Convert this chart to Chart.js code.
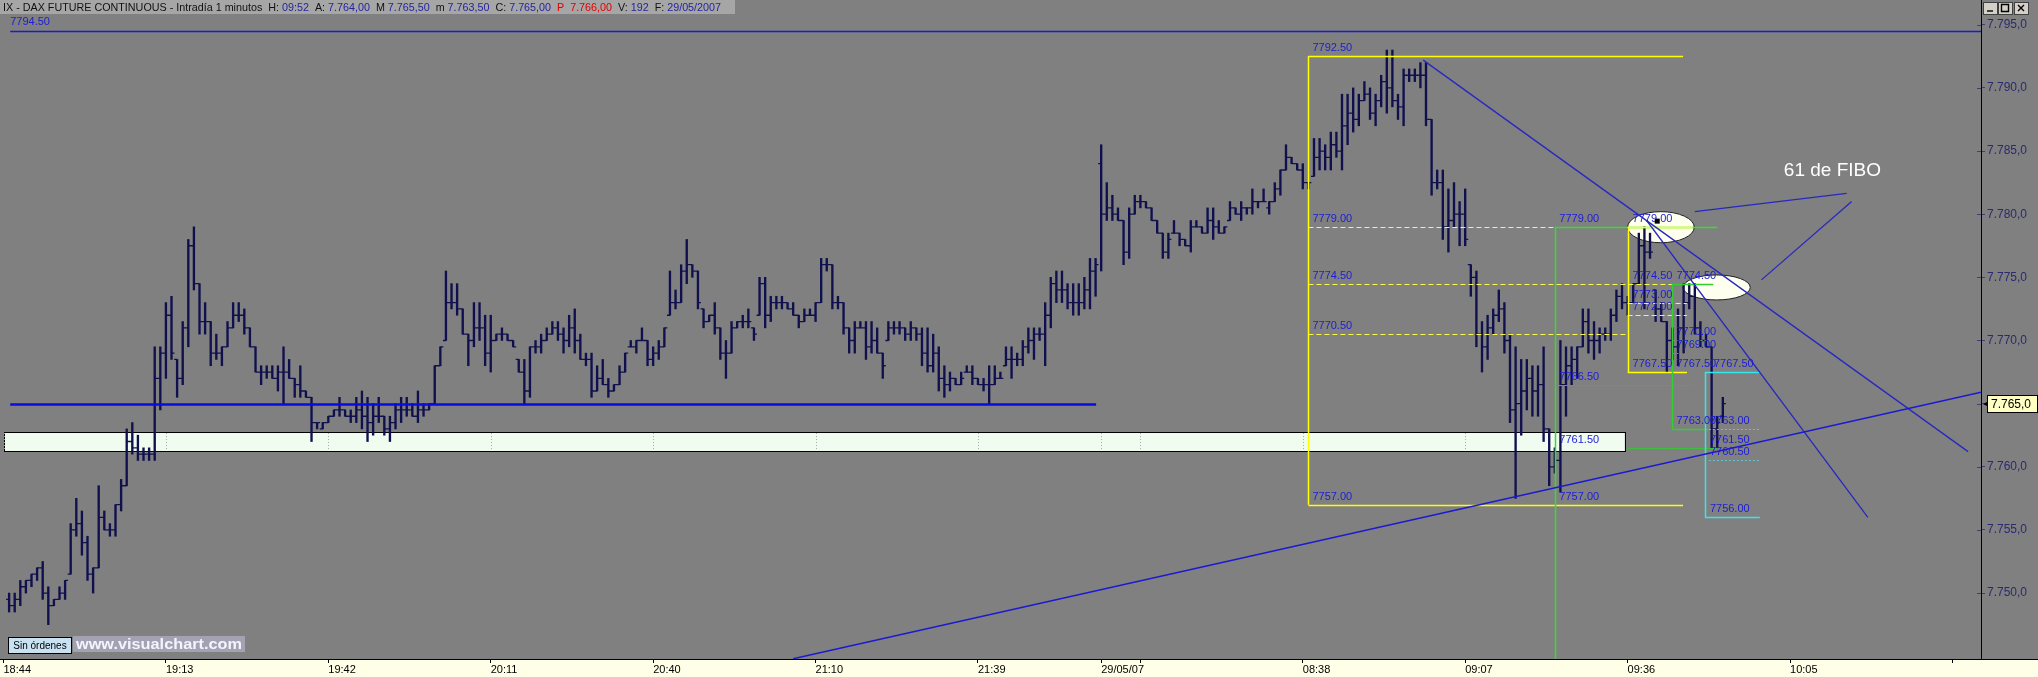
<!DOCTYPE html>
<html><head><meta charset="utf-8">
<script src="https://cdn.jsdelivr.net/npm/chart.js@4.4.1/dist/chart.umd.min.js"></script>
<style>html,body{margin:0;padding:0;background:#808080;overflow:hidden}canvas{display:block}</style>
</head><body>
<canvas id="c" width="2038" height="677"></canvas>
<script>
// ---- OHLC data, one-minute bars (bar n is at axis position n) ----
const H = [7750,7750,7751,7751,7751.5,7752,7752.5,7750.5,7749.5,7750.5,
7751,7755.5,7757.5,7756.5,7754.5,7752,7758.5,7756.5,7755.5,7757,
7759,7763,7763.5,7762.5,7761.5,7761.5,7769.5,7769.5,7773,7773.5,
7768.5,7771.5,7778,7779,7774.5,7773,7771.5,7770.5,7769.5,7771.5,
7773,7773,7772.5,7771,7769.5,7768,7768,7768,7768,7769.5,
7768.5,7767,7768,7766,7765.5,7763.5,7763.5,7764,7764.5,7765.5,
7764.5,7764.5,7765.5,7766,7765.5,7765,7765.5,7764,7764,7765,
7765.5,7765.5,7765,7766,7765,7765,7768,7769.5,7775.5,7774.5,
7774.5,7772.5,7770.5,7773,7773,7772,7772,7770.5,7771,7770.5,
7770,7768.5,7768.5,7769.5,7770,7770.5,7771,7771.5,7771.5,7771,
7772,7772.5,7770.5,7769,7769,7768,7768.5,7767,7766.5,7768,
7769,7770,7770,7771,7770,7769.5,7770,7771,7775.5,7774,
7776,7778,7776,7775.5,7772.5,7772,7773,7771,7770,7771.5,
7771.5,7772,7772.5,7771,7775,7775,7773.5,7773.5,7773.5,7773,
7773,7772,7772.5,7772.5,7773,7776.5,7776.5,7776,7773.5,7773,
7771,7771.5,7771.5,7771.5,7771.5,7771,7769,7771.5,7771.5,7771.5,
7771,7771.5,7771,7771,7771,7770.5,7769.5,7768,7767.5,7767,
7767.5,7768,7768,7767,7767,7768,7768,7767.5,7769.5,7769.5,
7769,7770,7771,7771,7771,7773,7775,7775.5,7775.5,7774.5,
7774.5,7774.5,7775,7776.5,7776.5,7785.5,7782.5,7781.5,7780.5,7779.5,
7780.5,7781.5,7781.5,7781,7780.5,7779.5,7778.5,7778.5,7779.5,7778.5,
7778,7779.5,7779.5,7779,7780.5,7780.5,7779.5,7779,7781,7780.5,
7781,7780.5,7782,7781,7782,7781,7782.5,7783.5,7785.5,7784.5,
7784,7784,7782.5,7786,7786,7785.5,7786.5,7786.5,7789.5,7789.5,
7790,7789.5,7790.5,7790,7789.5,7791,7793,7793,7789.5,7791.5,
7791.5,7791.5,7792,7792,7787.5,7783.5,7783.5,7782,7782.5,7781,
7782,7776,7775.5,7771.5,7772,7772.5,7774,7773,7770.5,7769.5,
7768.5,7768.5,7768,7768,7769.5,7763,7761.5,7770,7769.5,7769.5,
7769.5,7772.5,7772.5,7771.5,7771,7771,7772.5,7774,7774.5,7773.5,
7774.5,7778.5,7779,7778.5,7774,7773,7771.5,7771,7772.5,7774.5,
7774.5,7774.5,7771.5,7770.5,7769.5,7764,7765.5];
const L = [7748.5,7748.5,7749,7750,7750.5,7751,7749.5,7747.5,7749,7749.5,
7749.5,7751.5,7754.5,7753,7751,7750,7752,7755,7754.5,7754.5,
7756.5,7758.5,7761,7760.5,7760.5,7760.5,7760.5,7764.5,7767,7768.5,
7765.5,7766.5,7769.5,7774,7770.5,7770.5,7768,7768.5,7768,7769.5,
7771,7771.5,7770.5,7769.5,7767.5,7766.5,7767,7767,7766,7765,
7767,7765.5,7765.5,7765.5,7762,7763,7763,7763.5,7764,7764,
7764,7763.5,7763.5,7763,7762,7762.5,7763.5,7762.5,7762,7763,
7763.5,7764,7764,7763.5,7764,7764.5,7765,7768,7770,7772.5,
7772,7770.5,7768,7769.5,7770,7768,7767.5,7770,7770,7770,
7769.5,7767.5,7765,7765.5,7769,7769,7770,7770.5,7770,7769,
7769.5,7769,7768.5,7768,7765.5,7766,7766.5,7765.5,7766,7766.5,
7767.5,7769.5,7769,7770,7768,7768,7768.5,7769.5,7772,7772.5,
7773,7774.5,7775,7772.5,7771,7771.5,7770.5,7768.5,7767,7769,
7771,7771,7771,7770,7772,7771,7771.5,7772.5,7772.5,7772.5,
7772,7771,7771.5,7772,7771.5,7773,7775.5,7772.5,7772.5,7770.5,
7769,7769,7771,7768.5,7769,7769,7767,7770,7770.5,7770.5,
7770,7770,7770,7768,7767.5,7767.5,7766,7765.5,7766,7766.5,
7766.5,7767.5,7766.5,7766.5,7766,7765,7766.5,7767,7768,7767,
7768,7768,7769,7768.5,7770,7768,7771,7773,7773,7772.5,
7772,7772,7772.5,7772.5,7773.5,7775.5,7779.5,7779.5,7779.5,7776,
7776.5,7780,7780.5,7780.5,7779.5,7778.5,7776.5,7776.5,7778.5,7777.5,
7777.5,7777,7779,7778.5,7778.5,7778,7778.5,7778.5,7779.5,7780,
7779.5,7780,7780,7780.5,7781,7780,7781,7781.5,7783.5,7784,
7783.5,7782,7782,7783,7783.5,7783.5,7783.5,7784.5,7783.5,7785.5,
7786.5,7787,7789,7787.5,7787,7788.5,7788,7788.5,7787.5,7787,
7790.5,7790.5,7790,7787,7781.5,7782,7778,7777,7779,7777.5,
7777.5,7773.5,7769.5,7767.5,7768.5,7770.5,7771.5,7769,7763.5,7757.5,
7762.5,7764.5,7764,7764,7762,7758.5,7759.5,7758,7764,7766.5,
7767,7769.5,7769,7768.5,7769,7770,7770,7771.5,7772.5,7772,
7773,7774.5,7772.5,7776.5,7771.5,7771.5,7767.5,7768.5,7768,7769,
7772.5,7770.5,7769.5,7769.5,7761.5,7761.5,7763.5];
const O = [7749.5,7749,7749.5,7750.5,7751,7751.5,7752,7750,7749,7749.5,
7750,7751.5,7755,7755.5,7754,7751.5,7752,7756,7755,7755,
7757,7758.5,7762,7761.5,7761,7761,7761,7767,7769,7772,
7768.5,7767,7771,7777.5,7774.5,7771.5,7771.5,7769,7769,7769.5,
7771,7772,7772,7771,7769.5,7767.5,7767.5,7767.5,7767,7767.5,
7767.5,7767,7766.5,7766,7765.5,7763.5,7763,7763.5,7764,7764.5,
7764.5,7764,7764,7764.5,7764,7763.5,7764,7764,7763,7763.5,
7764.5,7764.5,7764.5,7764,7764.5,7764.5,7765,7768,7770,7773,
7773,7772.5,7770.5,7770,7771,7771,7769,7770,7770.5,7770.5,
7770,7768.5,7767.5,7766,7769.5,7769.5,7770,7770.5,7771,7770.5,
7770,7771,7770,7768.5,7768.5,7766,7767,7766.5,7766,7766.5,
7767.5,7769.5,7769.5,7770,7770,7768.5,7769,7769.5,7772,7773,
7773,7775.5,7776,7775.5,7772.5,7771.5,7772,7771,7769,7769,
7771,7771.5,7771.5,7771,7772,7774.5,7772,7773,7773,7773,
7772.5,7772,7771.5,7772,7772,7773,7776,7776,7773,7773,
7771,7770,7771,7771,7769.5,7770,7769,7770,7771,7771,
7771,7770.5,7771,7770.5,7769,7768,7769,7767,7766.5,7767,
7766.5,7767.5,7767.5,7767,7766.5,7766.5,7766.5,7767,7768,7768.5,
7768.5,7768.5,7769.5,7770,7770.5,7770.5,7772,7774.5,7774,7774,
7773,7773,7773,7774,7775.5,7784,7780,7780.5,7780,7779.5,
7777,7780,7781,7781,7780.5,7779.5,7778.5,7777,7778.5,7778.5,
7778,7777.5,7779,7779,7778.5,7779.5,7779,7778.5,7779.5,7780.5,
7780,7780.5,7780.5,7781,7781,7780.5,7781,7782,7783.5,7784.5,
7784,7783.5,7782.5,7783,7784.5,7785,7784.5,7785.5,7785,7787,
7788,7787.5,7789,7789.5,7788,7789,7790.5,7790,7789,7788.5,
7791,7791,7791,7791,7787.5,7782.5,7782.5,7779,7779.5,7780,
7780,7776,7775,7770.5,7769.5,7771,7772,7772.5,7770,7764.5,
7765,7766,7767,7766,7766.5,7763,7760,7760.5,7766.5,7768,
7768.5,7769.5,7771.5,7770,7770,7770.5,7770.5,7772,7773.5,7773,
7773,7774.5,7777.5,7777,7774,7772.5,7771.5,7770,7769.5,7771,
7773,7773.5,7771,7770,7769.5,7763,7764];
const C = [7749,7749.5,7750.5,7751,7751.5,7752,7750,7749,7749.5,7750,
7751,7755,7755.5,7754,7751.5,7752,7756,7755,7755,7757,
7758.5,7762,7761.5,7761,7761,7761,7767,7769,7772,7769,
7767,7771,7777.5,7774.5,7771.5,7771.5,7769,7769,7769.5,7771,
7772,7772,7771,7769.5,7767.5,7767.5,7767.5,7767,7767.5,7767.5,
7767,7766.5,7766,7765.5,7763.5,7763.5,7763.5,7764,7764.5,7764.5,
7764,7764,7764.5,7764,7763.5,7764,7764,7763,7763.5,7764.5,
7764.5,7764.5,7764,7764.5,7764.5,7765,7768,7769.5,7773,7773,
7772.5,7770.5,7770,7771,7771,7769,7770,7770.5,7770.5,7770,
7769.5,7767.5,7766,7769.5,7769.5,7770,7770.5,7771,7770.5,7770,
7771,7770,7768.5,7768.5,7766,7767,7766.5,7766,7766.5,7767.5,
7769,7769.5,7770,7770,7768.5,7769,7769.5,7771,7773,7773,
7775.5,7776,7775.5,7773,7771.5,7772,7771,7769,7769,7771,
7771.5,7771.5,7771.5,7770.5,7774.5,7772,7773,7773,7773,7772.5,
7772,7771.5,7772,7772,7773,7776,7776,7773,7773,7771,
7770,7771,7771,7769.5,7770,7769,7768,7771,7771,7771,
7770.5,7771,7770.5,7769,7768,7769,7767,7766.5,7767,7766.5,
7767,7767.5,7767,7766.5,7766.5,7766.5,7767,7767,7768.5,7768.5,
7768.5,7769.5,7770,7770.5,7770.5,7772,7774.5,7774,7774,7773,
7773,7773,7774,7775.5,7776,7780,7780.5,7780,7779.5,7777,
7780,7781,7781,7780.5,7779.5,7778.5,7777,7778,7778.5,7778,
7777.5,7779,7779,7778.5,7779.5,7779,7778.5,7779,7780.5,7780,
7780.5,7780.5,7781,7781,7781,7781,7782,7783.5,7784.5,7784,
7783.5,7782.5,7782.5,7784.5,7785,7784.5,7785.5,7785,7787,7788,
7787.5,7789,7789.5,7788,7789,7790.5,7790,7789,7788.5,7791,
7791,7791,7791,7787.5,7782.5,7782.5,7779,7779.5,7780,7780,
7778,7775,7770.5,7769.5,7771,7772,7772.5,7770,7764.5,7765,
7766,7767,7766,7766.5,7763,7760,7760.5,7766.5,7768,7768.5,
7769.5,7771.5,7770,7770,7770.5,7770.5,7772,7773.5,7773,7773,
7774.5,7777.5,7777,7777,7772.5,7771.5,7770,7769.5,7771,7773,
7773.5,7771,7770,7769.5,7763,7763.5,7765];

// ---- axis ticks ----
const xTickPos = [0,29,58,87,116,145,174,196,203,232,261,290,319,348];
const xTickLabels = ['18:44','19:13','19:42','20:11','20:40','21:10','21:39','29/05/07','','08:38','09:07','09:36','10:05',''];
const yTickValues = [7750,7755,7760,7765,7770,7775,7780,7785,7790,7795];
const xRange = [-0.625, 353.1];
const yRange = [7744.78, 7796.96];

// ---- drawing objects (bar position, price) ----
const topLevel = 7794.5;
const topLevelSpan = [1.2, 353.1];
const supportLevel = 7765;
const supportSpan = [1.2, 195.1];
const zoneBand = [7761.25, 7762.75];
const zoneSpan = [0.1, 289.5];
const fib1Levels = [7792.5, 7779, 7774.5, 7770.5, 7757];
const fib1Span = [233, 299.9];
const fib2Levels = [7779, 7766.5, 7761.5, 7757];
const fib2Span = [277.1, 306];
const fib3Levels = [7779, 7774.5, 7773, 7772, 7767.5];
const fib3Span = [290, 300.6];
const fib4Levels = [7774.5, 7770, 7769, 7767.5, 7763];
const fib4Span = [298, 305.3];
const fib5Levels = [7767.5, 7763, 7761.5, 7760.5, 7756];
const fib5Span = [303.8, 313.6];
const trendDown1 = [[253.5, 7792.2], [350.8, 7761.2]];
const trendDown2 = [[293.4, 7779.5], [332.9, 7756.0]];
const trendUp = [[141, 7744.8], [353.1, 7765.9]];
const noteLine1 = [[302.0, 7780.2], [329.1, 7781.65]];
const noteLine2 = [[313.9, 7774.8], [330.0, 7781.0]];
const ellipse1 = [[290.0, 7780.2], [301.9, 7777.74]];
const ellipse2 = [[299.9, 7775.19], [311.9, 7773.21]];
const noteText = '61 de FIBO';
const notePos = [317.9, 7783.4];

const FONT = '"Liberation Sans", Arial, sans-serif';
const LBL = '#1c1cd8';
const YEL = '#ffff00';

function fmtES(v, d) {
  const s = v.toFixed(d).split('.');
  const int = s[0].replace(/\B(?=(\d{3})+(?!\d))/g, '.');
  return d ? int + ',' + s[1] : int;
}

const overlay = {
  id: 'overlay',
  beforeDraw(chart) {
    const ctx = chart.ctx, ca = chart.chartArea;
    ctx.save();
    ctx.fillStyle = '#808080';
    ctx.fillRect(0, 0, chart.width, chart.height);
    ctx.fillStyle = '#ffffe8';
    ctx.fillRect(0, ca.bottom, chart.width, chart.height - ca.bottom);
    ctx.restore();
  },
  beforeDatasetsDraw(chart) {
    const ctx = chart.ctx, xs = chart.scales.x, ys = chart.scales.y;
    const X = v => xs.getPixelForValue(v), Y = v => ys.getPixelForValue(v);
    ctx.save();
    const x0 = X(zoneSpan[0]), x1 = X(zoneSpan[1]);
    const yT = Y(zoneBand[1]), yB = Y(zoneBand[0]);
    ctx.fillStyle = '#f0fcf0';
    ctx.fillRect(x0, yT, x1 - x0, yB - yT);
    ctx.strokeStyle = '#000';
    ctx.lineWidth = 1;
    ctx.strokeRect(Math.round(x0) + 0.5, Math.round(yT) + 0.5, Math.round(x1 - x0), Math.round(yB - yT));
    ctx.strokeStyle = '#a8a8a8';
    ctx.setLineDash([1, 2]);
    xTickPos.forEach(p => {
      const x = Math.round(X(p)) + 0.5;
      if (x > x0 && x < x1) { ctx.beginPath(); ctx.moveTo(x, yT + 1); ctx.lineTo(x, yB - 1); ctx.stroke(); }
    });
    ctx.setLineDash([]);
    [ellipse1, ellipse2].forEach(e => {
      const ax = X(e[0][0]), bx = X(e[1][0]), ay = Y(e[0][1]), by = Y(e[1][1]);
      ctx.beginPath();
      ctx.ellipse((ax + bx) / 2, (ay + by) / 2, (bx - ax) / 2, (by - ay) / 2, 0, 0, Math.PI * 2);
      ctx.fillStyle = '#fffff0';
      ctx.fill();
      ctx.strokeStyle = '#202020';
      ctx.lineWidth = 1;
      ctx.stroke();
    });
    ctx.restore();
  },
  afterDatasetsDraw(chart) {
    const ctx = chart.ctx, xs = chart.scales.x, ys = chart.scales.y, ca = chart.chartArea;
    const X = v => xs.getPixelForValue(v), Y = v => ys.getPixelForValue(v);
    ctx.save();
    ctx.beginPath();
    ctx.rect(ca.left, ca.top, ca.right - ca.left, ca.bottom - ca.top);
    ctx.clip();
    ctx.strokeStyle = '#10104e';
    ctx.lineWidth = 1.3;
    ctx.beginPath();
    for (let k = 0; k < C.length; k++) {
      const x = X(k + 1);
      const yo = Y(O[k]), yc = Y(C[k]);
      ctx.moveTo(x - 3, yo); ctx.lineTo(x, yo);
      ctx.moveTo(x, yc); ctx.lineTo(x + 3, yc);
    }
    ctx.stroke();

    const hline = (p, a, b, color, w, dash) => {
      ctx.strokeStyle = color; ctx.lineWidth = w; ctx.setLineDash(dash || []);
      const y = Math.round(Y(p)) + 0.5;
      ctx.beginPath(); ctx.moveTo(X(a), y); ctx.lineTo(X(b), y); ctx.stroke();
      ctx.setLineDash([]);
    };
    const vline = (i, p1, p2, color, w) => {
      ctx.strokeStyle = color; ctx.lineWidth = w;
      const x = Math.round(X(i)) + 0.5;
      ctx.beginPath(); ctx.moveTo(x, Y(p1)); ctx.lineTo(x, Y(p2)); ctx.stroke();
    };
    const seg = (pts, color, w) => {
      ctx.strokeStyle = color; ctx.lineWidth = w;
      ctx.beginPath(); ctx.moveTo(X(pts[0][0]), Y(pts[0][1])); ctx.lineTo(X(pts[1][0]), Y(pts[1][1])); ctx.stroke();
    };
    const label = (p, i, dx, dy) => {
      ctx.fillStyle = LBL;
      ctx.font = '11px ' + FONT;
      ctx.textBaseline = 'alphabetic';
      ctx.textAlign = 'left';
      ctx.fillText(p.toFixed(2), X(i) + (dx || 4), Y(p) - (dy || 5));
    };

    hline(supportLevel, supportSpan[0], supportSpan[1], '#0a0ae6', 2.6);
    hline(topLevel, topLevelSpan[0], topLevelSpan[1], '#1a1ad2', 1.4);

    // fib 1 (yellow)
    hline(fib1Levels[0], fib1Span[0], fib1Span[1], YEL, 1.5);
    hline(fib1Levels[4], fib1Span[0], fib1Span[1], YEL, 1.5);
    hline(fib1Levels[1], fib1Span[0], fib1Span[1], '#f8f850', 1.2, [5, 3]);
    hline(fib1Levels[2], fib1Span[0], fib1Span[1], '#f8f850', 1.2, [5, 3]);
    hline(fib1Levels[3], fib1Span[0], fib3Span[0], '#f8f850', 1.2, [5, 3]);
    vline(fib1Span[0], fib1Levels[0], fib1Levels[4], YEL, 1.5);

    // fib 2 (green)
    vline(fib2Span[0], fib2Levels[0], yRange[0], '#30e030', 1.5);
    hline(fib2Levels[0], fib2Span[0], fib2Span[1], '#30e030', 1.5);
    hline(fib2Levels[1], fib2Span[0], 301.7, '#5aa05a', 1);
    hline(fib2Levels[2], 289.9, fib2Span[1], '#3cc03c', 1.2);

    // fib 3 (yellow)
    vline(fib3Span[0], fib3Levels[0], fib3Levels[4], YEL, 1.5);
    hline(fib3Levels[0], fib3Span[0], 301.6, YEL, 1.5);
    hline(fib3Levels[4], fib3Span[0], fib3Span[1], YEL, 1.5);
    hline(fib3Levels[2], fib3Span[0], fib3Span[1], '#f8f850', 1.2, [5, 3]);
    hline(fib3Levels[3], fib3Span[0], fib3Span[1], '#f8f850', 1.2, [5, 3]);

    // fib 4 (green)
    vline(fib4Span[0], fib4Levels[0], fib4Levels[4], '#30d030', 1.5);
    hline(fib4Levels[0], fib4Span[0], fib4Span[1], '#30d030', 1.5);
    hline(fib4Levels[4], fib4Span[0], 304.4, '#30d030', 1.5);
    hline(fib4Levels[1], fib4Span[0], 304, '#5aa05a', 1, [2, 2]);
    hline(fib4Levels[2], fib4Span[0], 304, '#5aa05a', 1, [2, 2]);

    // fib 5 (cyan)
    vline(fib5Span[0], fib5Levels[0], fib5Levels[4], '#30e8f0', 1.5);
    hline(fib5Levels[0], fib5Span[0], fib5Span[1], '#30e8f0', 1.5);
    hline(fib5Levels[4], fib5Span[0], fib5Span[1], '#30e8f0', 1.5);
    hline(fib5Levels[1], 304.5, fib5Span[1], '#60c8d0', 1, [2, 2]);
    hline(fib5Levels[3], 304.5, fib5Span[1], '#60c8d0', 1, [2, 2]);

    seg(trendDown1, '#2828c0', 1.3);
    seg(trendDown2, '#2828c0', 1.3);
    seg(trendUp, '#1a1ad0', 1.5);
    seg(noteLine1, '#2828c0', 1.3);
    seg(noteLine2, '#2828c0', 1.3);

    fib1Levels.forEach(p => label(p, fib1Span[0]));
    fib2Levels.forEach(p => label(p, fib2Span[0]));
    fib3Levels.forEach(p => label(p, fib3Span[0], 5));
    fib4Levels.forEach(p => label(p, fib4Span[0]));
    fib5Levels.forEach((p, k) => label(p, fib5Span[0], k === 0 ? 9 : 5));
    ctx.fillStyle = LBL; ctx.font = '11px ' + FONT;
    ctx.fillText(topLevel.toFixed(2), X(topLevelSpan[0]), Y(topLevel) - 6);

    ctx.fillStyle = '#000';
    ctx.fillRect(X(295.2) - 2, Y(7779.49) - 2, 5, 5);

    ctx.fillStyle = '#ffffff';
    ctx.font = '19px ' + FONT;
    ctx.textBaseline = 'middle';
    ctx.fillText(noteText, X(notePos[0]), Y(notePos[1]));
    ctx.restore();
  },
  afterDraw(chart) {
    const ctx = chart.ctx, ca = chart.chartArea, ys = chart.scales.y;
    ctx.save();
    ctx.strokeStyle = '#000'; ctx.lineWidth = 1;
    ctx.beginPath(); ctx.moveTo(0, ca.bottom + 0.5); ctx.lineTo(chart.width, ca.bottom + 0.5); ctx.stroke();
    yTickValues.forEach(v => {
      const y = Math.round(ys.getPixelForValue(v)) + 0.5;
      ctx.beginPath(); ctx.moveTo(ca.right - 4, y); ctx.lineTo(ca.right, y); ctx.strokeStyle = '#404070'; ctx.stroke();
    });
    ctx.fillStyle = '#a6a6a6';
    ctx.fillRect(0, 0, 735, 14);
    const segs = [['IX - DAX FUTURE CONTINUOUS - Intradía 1 minutos  H: ', '#111'], ['09:52', '#2424a0'], ['  A: ', '#111'], ['7.764,00', '#2424a0'],
      ['  M ', '#111'], ['7.765,50', '#2424a0'], ['  m ', '#111'], ['7.763,50', '#2424a0'], ['  C: ', '#111'], ['7.765,00', '#2424a0'],
      ['  P  ', '#e00000'], ['7.766,00', '#e00000'], ['  V: ', '#111'], ['192', '#2424a0'], ['  F: ', '#111'], ['29/05/2007', '#2424a0']];
    ctx.font = '11px ' + FONT;
    ctx.textBaseline = 'middle';
    let total = 0; segs.forEach(s => total += ctx.measureText(s[0]).width);
    const sx = 718 / total;
    ctx.save(); ctx.translate(3, 7.5); ctx.scale(sx, 1);
    let xx = 0;
    segs.forEach(s => { ctx.fillStyle = s[1]; ctx.fillText(s[0], xx, 0); xx += ctx.measureText(s[0]).width; });
    ctx.restore();
    [[1983, '_'], [1998, 'o'], [2014, 'x']].forEach(([bx, g]) => {
      ctx.fillStyle = '#d4d0c8'; ctx.fillRect(bx, 2, 14, 12);
      ctx.strokeStyle = '#404040'; ctx.strokeRect(bx + 0.5, 2.5, 14, 12);
      ctx.strokeStyle = '#000'; ctx.lineWidth = 1.4; ctx.beginPath();
      if (g === '_') { ctx.moveTo(bx + 4, 11); ctx.lineTo(bx + 10, 11); }
      else if (g === 'o') { ctx.rect(bx + 3.5, 4.5, 7, 7); }
      else { ctx.moveTo(bx + 4, 5); ctx.lineTo(bx + 10, 11); ctx.moveTo(bx + 10, 5); ctx.lineTo(bx + 4, 11); }
      ctx.stroke(); ctx.lineWidth = 1;
    });
    const last = C[C.length - 1];
    const py = Math.round(ys.getPixelForValue(last));
    ctx.fillStyle = '#ffffc4'; ctx.fillRect(ca.right + 6, py - 9, 50, 18);
    ctx.strokeStyle = '#000'; ctx.strokeRect(ca.right + 6.5, py - 8.5, 50, 17);
    ctx.fillStyle = '#000'; ctx.font = '12px ' + FONT; ctx.textBaseline = 'middle'; ctx.textAlign = 'left';
    ctx.fillText(fmtES(last, 1), ca.right + 10, py + 0.5);
    ctx.beginPath(); ctx.moveTo(ca.right + 2, py); ctx.lineTo(ca.right + 6, py - 2); ctx.lineTo(ca.right + 6, py + 2); ctx.closePath(); ctx.fill();
    ctx.fillStyle = '#c8e2f2'; ctx.fillRect(8, 637, 63, 16);
    ctx.strokeStyle = '#000'; ctx.strokeRect(8.5, 637.5, 63, 16);
    ctx.fillStyle = '#000'; ctx.font = '10px ' + FONT; ctx.textAlign = 'center';
    ctx.fillText('Sin órdenes', 40, 646);
    ctx.fillStyle = '#a2a2b2'; ctx.fillRect(73, 636, 172, 16);
    ctx.fillStyle = '#f4f4ff'; ctx.font = 'bold 15px ' + FONT; ctx.textAlign = 'left';
    const w = ctx.measureText('www.visualchart.com').width;
    ctx.save(); ctx.translate(76, 644.5); ctx.scale(166 / w, 1); ctx.fillText('www.visualchart.com', 0, 0); ctx.restore();
    ctx.restore();
  }
};

const barData = H.map((h, k) => ({ x: k + 1, y: [L[k], h] }));

new Chart(document.getElementById('c'), {
  type: 'bar',
  data: { datasets: [{ data: barData, backgroundColor: '#10104e', borderWidth: 0, barThickness: 1.7, grouped: false }] },
  options: {
    responsive: false, animation: false, events: [],
    layout: { padding: 0 },
    plugins: { legend: { display: false }, tooltip: { enabled: false } },
    scales: {
      x: {
        type: 'linear', position: 'bottom', min: xRange[0], max: xRange[1], bounds: 'data', offset: false,
        grid: { drawOnChartArea: false, drawTicks: true, tickLength: 4, color: '#000', offset: false },
        border: { display: true, color: '#000' },
        afterBuildTicks: s => { s.ticks = xTickPos.map(v => ({ value: v })); },
        afterFit: s => { s.height = 18; s.paddingLeft = 0; s.paddingRight = 0; },
        ticks: { autoSkip: false, maxRotation: 0, align: 'start', padding: 0, color: '#000', font: { family: FONT, size: 11 },
          callback: v => { const k = xTickPos.indexOf(v); return k >= 0 ? xTickLabels[k] : ''; } }
      },
      y: {
        type: 'linear', position: 'right', min: yRange[0], max: yRange[1], bounds: 'data', beginAtZero: false,
        grid: { drawOnChartArea: false, drawTicks: true, tickLength: 4, color: '#404070' },
        border: { display: true, color: '#000' },
        afterBuildTicks: s => { s.ticks = yTickValues.map(v => ({ value: v })); },
        afterFit: s => { s.width = 57; s.paddingTop = 0; s.paddingBottom = 0; },
        ticks: { padding: 2, color: '#2a2a70', font: { family: FONT, size: 12 }, callback: v => fmtES(v, 1) }
      }
    }
  },
  plugins: [overlay]
});
</script>
</body></html>
